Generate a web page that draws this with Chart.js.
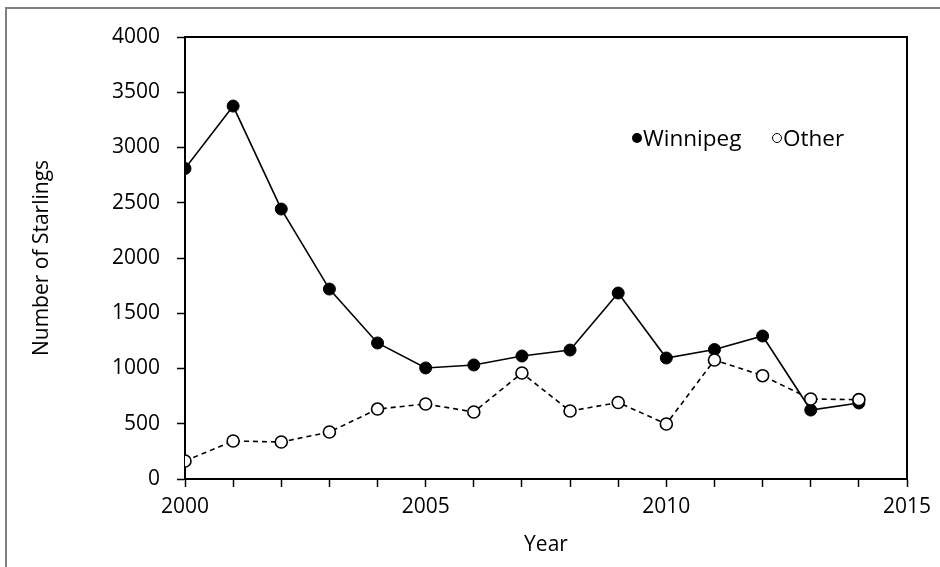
<!DOCTYPE html>
<html>
<head>
<meta charset="utf-8">
<script src="https://cdn.jsdelivr.net/npm/chart.js@4"></script>
<style>
    body { margin: 0; background: #fff; }
    #wrap { position: relative; width: 940px; height: 567px; overflow: hidden; font-family: "Open Sans", sans-serif; }
    #frame { position: absolute; left: 5px; top: 7px; width: 1000px; height: 1000px; border-top: 2px solid #808080; border-left: 2px solid #808080; }
    #myChart { position: absolute; left: 0; top: 0; }
    .leg { position: absolute; top: 124px; font-size: 22.5px; line-height: 28px; color: #000; }
    .dot { display: inline-block; width: 10px; height: 10px; border-radius: 50%; box-sizing: border-box; vertical-align: middle; margin-top: -4px; margin-right: 1px; }
</style>
</head>
<body>
<div id="wrap">
    <div id="frame"></div>
    <canvas id="myChart" width="940" height="567"></canvas>
    <div class="leg" style="left:632px"><span class="dot" style="background:#000"></span>Winnipeg</div>
    <div class="leg" style="left:772px"><span class="dot" style="border:1.5px solid #000;background:#fff"></span>Other</div>
</div>
<script>
const annees = [2000, 2001, 2002, 2003, 2004, 2005, 2006, 2007, 2008, 2009, 2010, 2011, 2012, 2013, 2014];
const winnipeg = [2810, 3375, 2443, 1719, 1231, 1005, 1032, 1113, 1167, 1683, 1095, 1172, 1294, 624, 688];
const autres = [163, 344, 335, 425, 633, 679, 606, 959, 615, 692, 498, 1077, 935, 724, 718];
const ticksY = [0, 500, 1000, 1500, 2000, 2500, 3000, 3500, 4000];
const ticksX = [2000, 2005, 2010, 2015];

function points(valeurs) {
    return annees.map((a, i) => ({ x: a, y: valeurs[i] }));
}

const police = { family: '"Open Sans", sans-serif', size: 21 };

const ctx = document.getElementById('myChart');

new Chart(ctx, {
    type: 'line',
    data: {
        datasets: [{
            label: 'Winnipeg',
            data: points(winnipeg),
            borderColor: '#000',
            borderWidth: 1.6,
            backgroundColor: '#000',
            pointRadius: 6,
            pointBorderWidth: 1,
            pointBorderColor: '#000',
            pointBackgroundColor: '#000',
            tension: 0,
            order: 2
        }, {
            label: 'Other',
            data: points(autres),
            borderColor: '#000',
            borderWidth: 1.6,
            borderDash: [5, 4],
            pointRadius: 6,
            pointBorderWidth: 1.6,
            pointBorderColor: '#000',
            pointBackgroundColor: '#fff',
            tension: 0,
            order: 1
        }]
    },
    options: {
        responsive: false,
        animation: false,
        layout: { padding: 0 },
        plugins: {
            legend: { display: false },
            tooltip: { enabled: false }
        },
        scales: {
            x: {
                type: 'linear',
                position: 'bottom',
                min: 2000,
                max: 2015,
                afterFit: s => { s.height = 88; },
                afterBuildTicks: s => { s.ticks = annees.concat([2015]).map(v => ({ value: v })); },
                ticks: {
                    autoSkip: false,
                    maxRotation: 0,
                    padding: 7,
                    color: '#000',
                    font: police,
                    callback: v => ticksX.includes(v) ? String(v) : ''
                },
                grid: { drawOnChartArea: false, tickLength: 8, color: '#000', tickWidth: 1.5 },
                border: { color: '#000', width: 2 },
                title: { display: true, text: 'Year', color: '#000', font: police, padding: { top: 0, bottom: 9 } }
            },
            x2: {
                type: 'linear',
                position: 'top',
                min: 0,
                max: 1,
                afterFit: s => { s.height = 37; },
                ticks: { display: false },
                grid: { display: false },
                border: { color: '#000', width: 2 }
            },
            y: {
                position: 'left',
                min: 0,
                max: 4000,
                afterFit: s => { s.width = 185; },
                afterBuildTicks: s => { s.ticks = ticksY.map(v => ({ value: v })); },
                ticks: { padding: 17, color: '#000', font: police, callback: v => String(v) },
                grid: { drawOnChartArea: false, tickLength: 8, color: '#000', tickWidth: 1.5 },
                border: { color: '#000', width: 2 },
                title: { display: true, text: 'Number of Starlings', color: '#000', font: police, padding: { top: 29, bottom: 0 } }
            },
            y2: {
                position: 'right',
                min: 0,
                max: 1,
                afterFit: s => { s.width = 33; },
                ticks: { display: false },
                grid: { display: false },
                border: { color: '#000', width: 2 }
            }
        }
    }
});
</script>
</body>
</html>
